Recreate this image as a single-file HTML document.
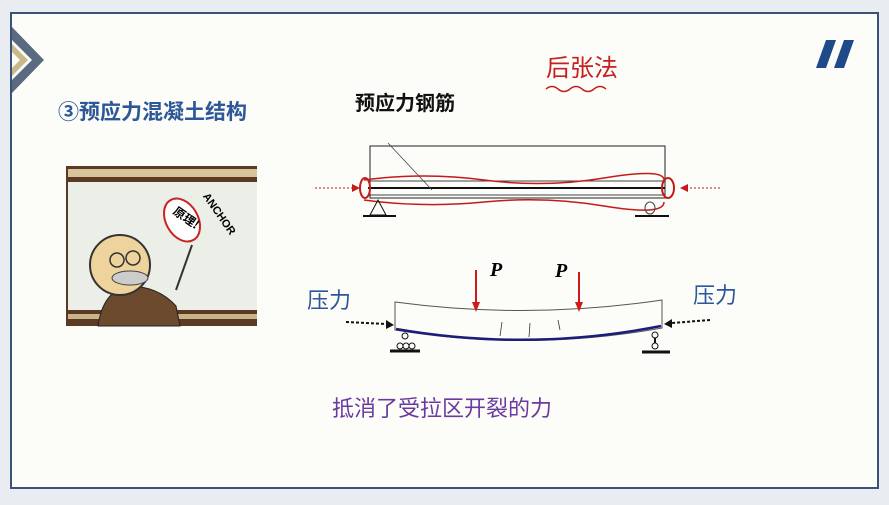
<!DOCTYPE html>
<html><head><meta charset="utf-8"><style>
body{margin:0;width:889px;height:500px;background:#e9ecf1;overflow:hidden;font-family:"Liberation Sans","Noto Sans CJK SC",sans-serif}
</style></head><body>
<svg width="889" height="500" viewBox="0 0 889 500" xmlns="http://www.w3.org/2000/svg">
<rect x="11" y="13" width="867" height="475" fill="#fcfcf8" stroke="#3a5275" stroke-width="2"/>
<polygon points="12,27 44,60 12,93 12,80 32,60 12,40" fill="#5a6a80"/>
<polygon points="12,44 28,60 12,76 12,68 20,60 12,52" fill="#c9b98a"/>
<polygon points="826,40 836,40 826,68 816,68" fill="#1f4a8a"/>
<polygon points="844,40 854,40 844,68 834,68" fill="#1f4a8a"/>
<text x="58" y="119" font-size="21" font-weight="bold" fill="#2d5799" font-family="Liberation Sans,Noto Sans CJK SC,sans-serif">③预应力混凝土结构</text>
<text x="355" y="110" font-size="20" font-weight="bold" fill="#111" font-family="Liberation Sans,Noto Sans CJK SC,sans-serif">预应力钢筋</text>
<text x="546" y="76" font-size="24" fill="#c62020" font-family="Noto Sans CJK SC,sans-serif">后张法</text>
<path d="M546,89 q6,-5 12,0 t12,0 t12,0 t12,0 t12,0" stroke="#c62020" fill="none" stroke-width="1.5"/>
<!-- cartoon -->
<rect x="66" y="166" width="191" height="160" fill="#5a3a22"/>
<rect x="68" y="169" width="189" height="8" fill="#d8c49a"/>
<rect x="68" y="182" width="189" height="128" fill="#eceee8"/>
<rect x="68" y="314" width="189" height="5" fill="#c9b48a"/>
<path d="M98,326 q5,-35 30,-40 q30,0 48,20 l4,20z" fill="#6b4a2e" stroke="#222"/>
<circle cx="120" cy="265" r="30" fill="#eed39c" stroke="#333" stroke-width="2"/>
<circle cx="117" cy="260" r="7" fill="none" stroke="#333" stroke-width="1.5"/>
<circle cx="133" cy="258" r="7" fill="none" stroke="#333" stroke-width="1.5"/>
<ellipse cx="130" cy="278" rx="18" ry="7" fill="#ccc" stroke="#444"/>
<ellipse cx="182" cy="220" rx="16" ry="23" fill="#fff" stroke="#c22" stroke-width="2" transform="rotate(-30 182 220)"/>
<text x="170" y="220" font-size="12" font-weight="bold" transform="rotate(35 182 220)" font-family="Noto Sans CJK SC,sans-serif">原理!</text>
<text x="190" y="200" font-size="11" font-weight="bold" transform="rotate(55 200 210)">ANCHOR</text>
<line x1="176" y1="290" x2="192" y2="245" stroke="#333" stroke-width="2"/>
<!-- top beam -->
<rect x="370" y="146" width="295" height="52" fill="none" stroke="#222"/>
<line x1="368" y1="181" x2="665" y2="181" stroke="#444"/>
<line x1="368" y1="188" x2="665" y2="188" stroke="#111" stroke-width="2"/>
<line x1="368" y1="195" x2="665" y2="195" stroke="#444"/>
<line x1="388" y1="143" x2="432" y2="190" stroke="#444" stroke-width="0.8"/>
<path d="M364,180 q60,-8 120,0 t120,-2 t60,2 M364,200 q60,8 120,2 t120,4 t60,-4" stroke="#c41a1a" fill="none" stroke-width="1.5"/>
<ellipse cx="365" cy="188" rx="5" ry="10" fill="none" stroke="#c41a1a" stroke-width="2"/>
<ellipse cx="668" cy="188" rx="6" ry="10" fill="none" stroke="#c41a1a" stroke-width="2"/>
<line x1="315" y1="188" x2="352" y2="188" stroke="#c41a1a" stroke-dasharray="2,2"/><polygon points="352,184 360,188 352,192" fill="#c41a1a"/>
<line x1="720" y1="188" x2="688" y2="188" stroke="#c41a1a" stroke-dasharray="2,2"/><polygon points="688,184 680,188 688,192" fill="#c41a1a"/>
<polygon points="378,200 370,215 386,215" fill="none" stroke="#111"/>
<line x1="363" y1="216" x2="396" y2="216" stroke="#111" stroke-width="2"/>
<ellipse cx="650" cy="208" rx="5" ry="6" fill="none" stroke="#444"/>
<line x1="635" y1="216" x2="669" y2="216" stroke="#111" stroke-width="2"/>
<!-- bottom beam -->
<path d="M395,302 Q529,320 662,300 L662,328 Q529,352 395,330 Z" fill="none" stroke="#555"/>
<path d="M396,329 Q529,352 661,326" stroke="#1a1e7a" stroke-width="2.5" fill="none"/>
<path d="M502,322 l-2,14 M530,323 l-1,14 M558,320 l2,10" stroke="#333" stroke-width="0.8" fill="none"/>
<line x1="476" y1="270" x2="476" y2="305" stroke="#d01a1a" stroke-width="2"/><polygon points="472,302 476,312 480,302" fill="#d01a1a"/>
<line x1="579" y1="272" x2="579" y2="305" stroke="#d01a1a" stroke-width="2"/><polygon points="575,302 579,312 583,302" fill="#d01a1a"/>
<text x="490" y="276" font-size="20" font-weight="bold" font-style="italic" font-family="Liberation Serif,serif">P</text>
<text x="555" y="277" font-size="20" font-weight="bold" font-style="italic" font-family="Liberation Serif,serif">P</text>
<text x="307" y="308" font-size="22" fill="#2d5799" font-family="Liberation Sans,Noto Sans CJK SC,sans-serif">压力</text>
<text x="693" y="303" font-size="22" fill="#2d5799" font-family="Liberation Sans,Noto Sans CJK SC,sans-serif">压力</text>
<line x1="346" y1="322" x2="386" y2="324" stroke="#111" stroke-width="2" stroke-dasharray="3,2"/><polygon points="386,320 394,325 386,329" fill="#111"/>
<line x1="710" y1="320" x2="672" y2="323" stroke="#111" stroke-width="2" stroke-dasharray="3,2"/><polygon points="672,319 664,324 672,328" fill="#111"/>
<circle cx="405" cy="336" r="3" fill="none" stroke="#111"/><circle cx="400" cy="346" r="3" fill="none" stroke="#111"/><circle cx="406" cy="346" r="3" fill="none" stroke="#111"/><circle cx="412" cy="346" r="3" fill="none" stroke="#111"/>
<line x1="390" y1="351" x2="420" y2="351" stroke="#111" stroke-width="3"/>
<circle cx="655" cy="335" r="3" fill="none" stroke="#111"/><line x1="655" y1="338" x2="655" y2="343" stroke="#111" stroke-width="2"/><circle cx="655" cy="346" r="3" fill="none" stroke="#111"/>
<line x1="642" y1="352" x2="670" y2="352" stroke="#111" stroke-width="3"/>
<text x="332" y="416" font-size="22" fill="#6b3aa0" font-family="Liberation Sans,Noto Sans CJK SC,sans-serif">抵消了受拉区开裂的力</text>
</svg>
</body></html>
